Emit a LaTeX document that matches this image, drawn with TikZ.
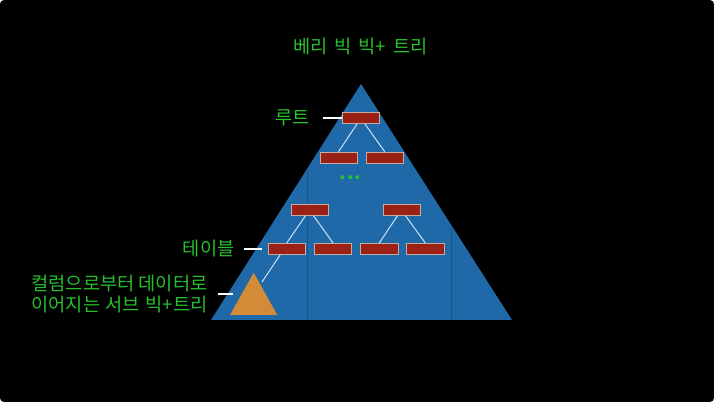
\documentclass[tikz,border=0pt]{standalone}
\usepackage{fontspec}
\setmainfont{Noto Sans CJK KR}

\definecolor{treeblue}{RGB}{31,105,168}
\definecolor{gridblue}{RGB}{24,86,142}
\definecolor{keyred}{RGB}{155,32,22}
\definecolor{keyedge}{RGB}{196,172,160}
\definecolor{subtree}{RGB}{211,139,56}
\definecolor{lblgreen}{RGB}{40,192,44}
\definecolor{linkblue}{RGB}{205,225,242}

\tikzset{every picture/.style={line width=0.75pt}}
\tikzset{
  keybox/.style={draw=keyedge, line width=0.5pt, fill=keyred, minimum width=28pt, minimum height=8.6pt, inner sep=0pt},
  lbl/.style={text=lblgreen, font=\fontsize{14}{14.5}\selectfont, inner sep=0.75pt},
  link/.style={draw=linkblue, line width=0.75pt},
  pointer/.style={draw=white, line width=0.9pt},
}

\begin{document}
\begin{tikzpicture}[x=0.75pt,y=0.75pt,yscale=-1,xscale=1]
        \useasboundingbox (0,0) rectangle (714,402);
        \fill [white] (0,0) rectangle (714,402);
        \fill [black, rounded corners=3pt] (0,0) rectangle (714,402);

        %Shape: Triangle [id:bigtree]
        \fill [treeblue] (361,84) -- (512,320) -- (211,320) -- cycle ;
        %Straight Lines (faint columns)
        \begin{scope}
          \clip (361,84) -- (512,320) -- (211,320) -- cycle ;
          \draw [gridblue, line width=0.6pt] (307,170) -- (307,320) ;
          \draw [gridblue, line width=0.6pt] (451,170) -- (451,320) ;
        \end{scope}
        %Shape: Triangle [id:subtree]
        \fill [subtree] (253.7,272.7) -- (277.3,315) -- (230,315) -- cycle ;
        \coordinate (sub) at (262,282) ;
        \coordinate (subl) at (233,294) ;

        % Key nodes
        \node [keybox] (root) at (361,118) {};
        \node [keybox] (l2a) at (338.5,157.7) {};
        \node [keybox] (l2b) at (384.7,157.7) {};
        \node [keybox] (l3a) at (309.5,209.7) {};
        \node [keybox] (l3b) at (401.5,209.7) {};
        \node [keybox] (l4a) at (286.7,249) {};
        \node [keybox] (l4b) at (333,249) {};
        \node [keybox] (l4c) at (379.3,249) {};
        \node [keybox] (l4d) at (425.3,249) {};

        % Links
        \draw [link] ([xshift=-3pt]root.south) -- (l2a.north) ;
        \draw [link] ([xshift=3pt]root.south) -- (l2b.north) ;
        \draw [link] ([xshift=-3pt]l3a.south) -- (l4a.north) ;
        \draw [link] ([xshift=3pt]l3a.south) -- (l4b.north) ;
        \draw [link] ([xshift=-3pt]l3b.south) -- (l4c.north) ;
        \draw [link] ([xshift=3pt]l3b.south) -- (l4d.north) ;
        \draw [link] ([xshift=-5pt]l4a.south) -- (sub) ;

        % Text Node
        \node [lbl] (title) at (360.5,47) {베리\hspace{2pt} 빅\hspace{2pt} 빅+\hspace{2pt} 트리};
        % Text Node
        \node [lbl] (dots) at (350.5,178) {\textbf{.\hspace{0.6pt}.\hspace{0.6pt}.}};
        % Text Node
        \node [lbl, anchor=east] (lroot) at (311,118) {루트};
        % Text Node
        \node [lbl, anchor=east] (ltable) at (236,249) {테이블};
        % Text Node
        \node [lbl, anchor=east, align=right] (lsub) at (209,294) {컬럼으로부터 데이터로\\[0.8pt]이어지는\hspace{1pt} 서브\hspace{1pt} 빅+트리};

        % Pointers
        \draw [pointer] ([xshift=9pt]lroot.east) -- (root.west) ;
        \draw [pointer] ([xshift=6pt]ltable.east) -- ([xshift=-4.5pt]l4a.west) ;
        \draw [pointer] ([xshift=6.5pt]lsub.east) -- (subl) ;

    \end{tikzpicture}
\end{document}
